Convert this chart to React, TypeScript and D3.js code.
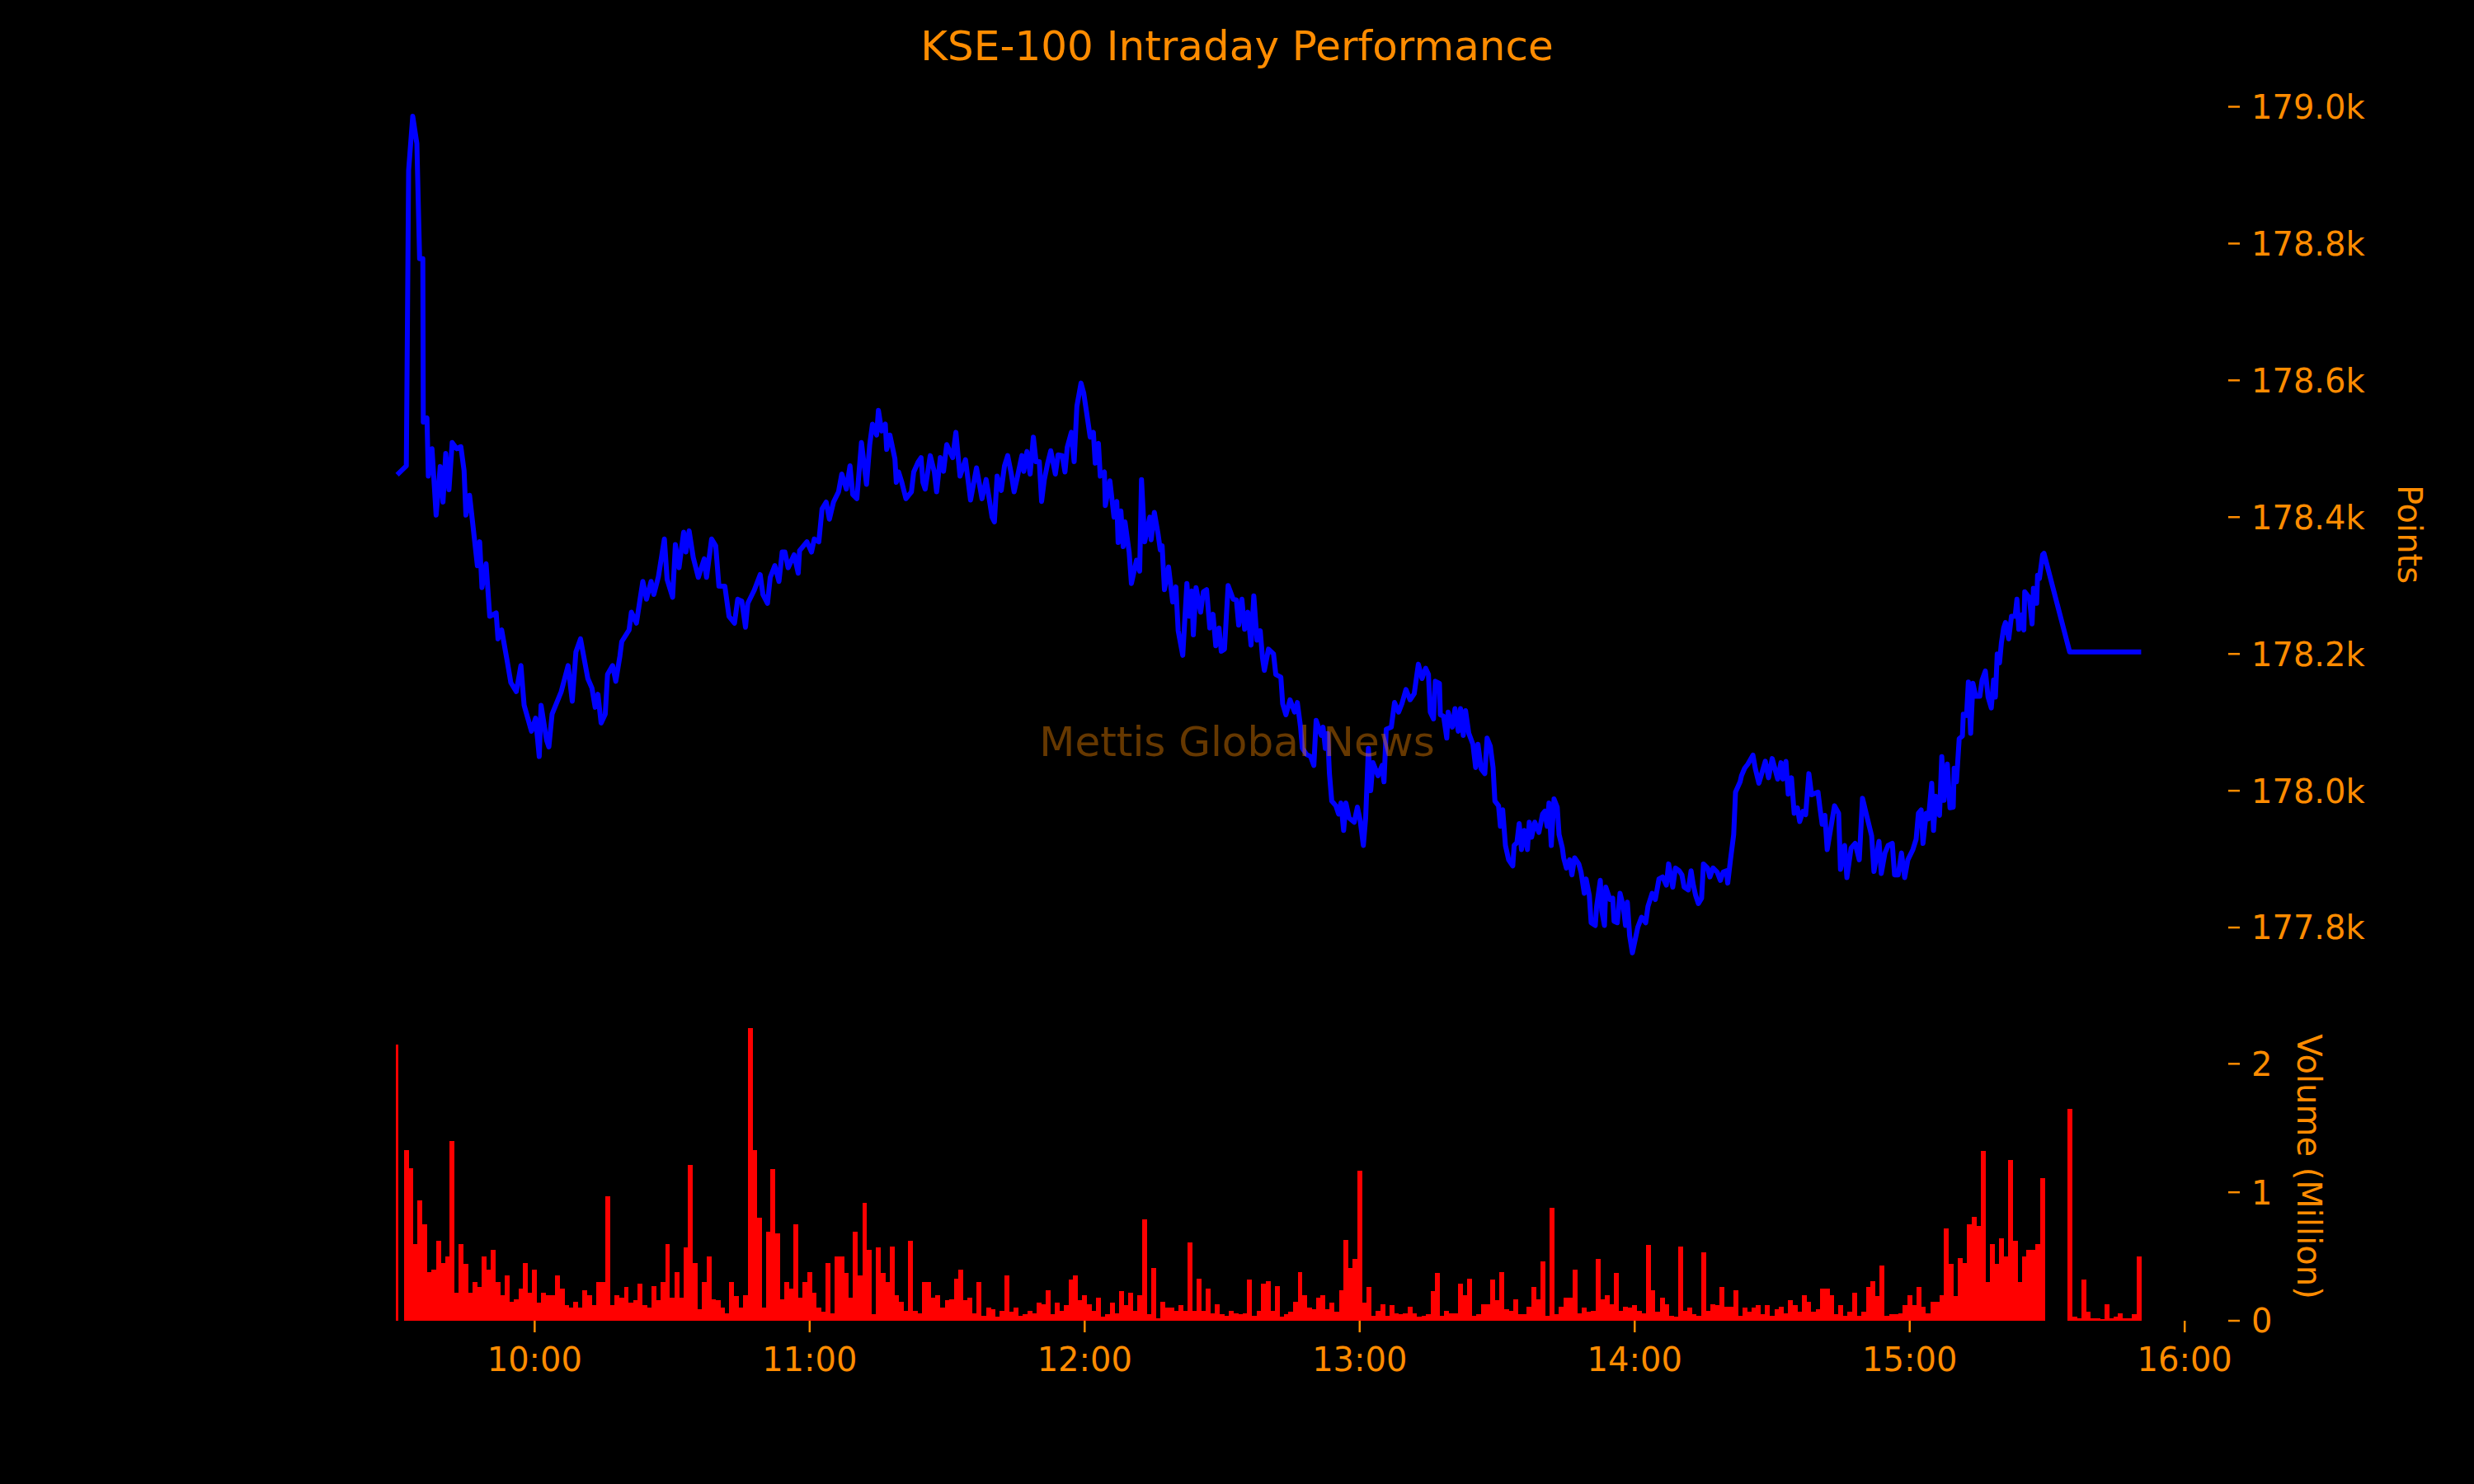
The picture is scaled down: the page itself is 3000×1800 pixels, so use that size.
import * as d3 from "d3";

// minutes after 09:30, index level (points)
const pricePoints: [number, number][] = [
  [0, 178462], [2, 178475], [2.5, 178907], [3.4, 178986], [4.3, 178946], [4.9, 178778], [5.6, 178778],
  [5.7, 178539], [6.5, 178545], [6.8, 178460], [7.6, 178500], [8.5, 178403], [9.4, 178474], [10, 178422],
  [10.6, 178493], [11.3, 178440], [12, 178509], [13, 178500], [13.9, 178503], [14.6, 178468], [15, 178403],
  [15.8, 178432], [16.5, 178390], [17.5, 178329], [18, 178364], [18.5, 178297], [19.4, 178332], [20.2, 178255],
  [21.6, 178260], [22, 178222], [22.8, 178235], [24, 178190], [24.8, 178158], [26, 178145], [27, 178183],
  [27.7, 178125], [29.3, 178087], [30.2, 178106], [31, 178050], [31.4, 178125], [32.6, 178074], [33.1, 178064],
  [33.8, 178112], [35.8, 178145], [37.3, 178183], [38.2, 178131], [39, 178203], [40, 178222], [41.6, 178164],
  [42.5, 178150], [43.2, 178122], [43.8, 178141], [44.5, 178099], [45.4, 178112], [45.9, 178170], [47, 178183],
  [47.7, 178160], [48.6, 178197], [49, 178218], [50.6, 178235], [51.1, 178261], [52.2, 178245], [53, 178280],
  [53.6, 178306], [54.4, 178280], [55.4, 178306], [56, 178287], [57, 178313], [58.3, 178368], [58.9, 178309],
  [60.1, 178283], [60.7, 178360], [61.5, 178326], [62.5, 178378], [63, 178349], [63.7, 178380], [64.6, 178341],
  [65.7, 178312], [67, 178339], [67.5, 178312], [68.6, 178368], [69.5, 178358], [70.2, 178299], [71.5, 178299],
  [72.4, 178255], [73.6, 178245], [74.3, 178280], [75.2, 178277], [76, 178239], [76.5, 178274], [77.9, 178293],
  [79.2, 178316], [79.8, 178287], [80.8, 178274], [81.4, 178312], [82.4, 178329], [83.3, 178306], [84, 178349],
  [84.6, 178349], [85.3, 178326], [86.6, 178345], [87.5, 178318], [87.8, 178351], [89.4, 178364], [90.4, 178349],
  [91, 178368], [92, 178364], [92.7, 178412], [93.6, 178422], [94.3, 178397], [95.2, 178422], [96.3, 178437],
  [97, 178463], [98, 178441], [98.8, 178475], [99.4, 178433], [100.3, 178427], [101.3, 178509], [102.4, 178448],
  [103.1, 178506], [103.7, 178536], [104.6, 178520], [105, 178556], [105.7, 178526], [106.5, 178536],
  [106.8, 178499], [107.5, 178520], [108.6, 178485], [108.9, 178451], [109.4, 178466], [110.1, 178451],
  [111, 178427], [112.2, 178437], [112.7, 178466], [113.7, 178481], [114.3, 178487], [114.7, 178451],
  [115.2, 178441], [116.3, 178490], [117.2, 178466], [117.7, 178437], [118.5, 178487], [119.2, 178467],
  [119.9, 178506], [121.2, 178487], [121.9, 178524], [122.8, 178460], [124, 178484], [125.1, 178425],
  [126.4, 178472], [127.6, 178427], [128.5, 178455], [129.8, 178400], [130.3, 178393], [130.9, 178460],
  [131.8, 178439], [132.5, 178475], [133.2, 178490], [134, 178463], [134.6, 178437], [135.2, 178455],
  [136.3, 178490], [136.7, 178467], [137.4, 178496], [138.1, 178463], [138.8, 178517], [139.4, 178481],
  [140.1, 178481], [140.6, 178423], [141.2, 178455], [141.9, 178478], [142.6, 178497], [143.6, 178463],
  [144.2, 178491], [145.1, 178490], [145.7, 178466], [146.2, 178502], [147.1, 178524], [147.7, 178481],
  [148.3, 178562], [149.2, 178596], [149.8, 178581], [150.4, 178554], [151.2, 178517], [151.9, 178524],
  [152.3, 178479], [153, 178508], [153.4, 178460], [154.3, 178466], [154.5, 178417], [155.5, 178453],
  [156.4, 178400], [157, 178423], [157.3, 178363], [157.9, 178409], [158.4, 178357], [158.8, 178393],
  [159.7, 178349], [160.2, 178303], [161.3, 178337], [162, 178321], [162.4, 178455], [163.1, 178364],
  [164.2, 178400], [164.5, 178367], [165.2, 178407], [166, 178376], [166.5, 178352], [166.9, 178358],
  [167.4, 178294], [168.3, 178327], [169.2, 178276], [169.9, 178298], [170.4, 178234], [171.4, 178198],
  [172.3, 178303], [172.8, 178255], [173.4, 178292], [173.7, 178228], [174.3, 178297], [175.3, 178261],
  [175.9, 178291], [176.6, 178294], [177.3, 178238], [178, 178258], [178.6, 178212], [179.3, 178238],
  [179.8, 178204], [180.5, 178207], [181.3, 178300], [182.4, 178280], [183.1, 178279], [183.6, 178242],
  [184.3, 178280], [184.9, 178236], [185.6, 178261], [186.3, 178213], [186.9, 178285], [187.6, 178220],
  [188.3, 178234], [188.8, 178194], [189.2, 178176], [190.1, 178207], [191.2, 178200], [191.7, 178170],
  [192.8, 178166], [193.2, 178127], [193.9, 178111], [194.8, 178133], [195.8, 178115], [196.4, 178129],
  [197.1, 178093], [197.5, 178062], [198.4, 178053], [199.3, 178050], [200, 178037], [200.5, 178103],
  [201.6, 178081], [202, 178093], [202.5, 178062], [203, 178084], [203.4, 178025], [203.9, 177985],
  [204.8, 177978], [205.4, 177966], [205.9, 177982], [206.5, 177942], [207, 177982], [207.7, 177960],
  [208.8, 177954], [209.5, 177976], [210.1, 177957], [210.8, 177920], [211.3, 177960], [211.9, 178062],
  [212.4, 178000], [212.9, 178041], [214, 178022], [214.9, 178037], [215.3, 178013], [215.8, 178090],
  [216.9, 178093], [217.6, 178129], [218.5, 178115], [219.2, 178127], [220.1, 178148], [221, 178133],
  [221.9, 178142], [222.8, 178185], [223.6, 178164], [224.4, 178179], [225, 178170], [225.4, 178115],
  [226.1, 178105], [226.5, 178160], [227.4, 178157], [227.6, 178111], [228.3, 178109], [229, 178077],
  [229.3, 178115], [230.2, 178093], [230.8, 178120], [231.5, 178087], [232, 178120], [232.6, 178081],
  [233.1, 178117], [233.8, 178084], [234.7, 178068], [235.3, 178034], [235.8, 178068], [236.5, 178032],
  [237.3, 178025], [237.8, 178077], [238.5, 178065], [239.1, 178034], [239.5, 177985], [240.3, 177978],
  [240.7, 177948], [241.2, 177972], [241.8, 177920], [242.5, 177899], [243.4, 177890], [243.7, 177920],
  [244.3, 177924], [244.8, 177952], [245.3, 177914], [245.9, 177942], [246.6, 177914], [247, 177954],
  [247.5, 177932], [248.2, 177954], [249.1, 177939], [249.9, 177966], [250.4, 177970], [250.9, 177948],
  [251.3, 177982], [251.8, 177920], [252.4, 177988], [253.1, 177976], [253.5, 177936], [254.2, 177917],
  [254.5, 177902], [255.1, 177887], [255.8, 177899], [256.3, 177877], [256.9, 177902], [257.8, 177893],
  [258.3, 177881], [259, 177850], [259.4, 177871], [260.1, 177847], [260.5, 177807], [261.4, 177803],
  [261.7, 177831], [262.5, 177869], [262.8, 177825], [263.4, 177803], [263.7, 177859], [264.6, 177841],
  [265.2, 177843], [265.5, 177809], [266.2, 177807], [266.8, 177850], [267.5, 177831], [268, 177803],
  [268.4, 177837], [268.9, 177788], [269.5, 177763], [270.2, 177785], [270.7, 177801], [271.5, 177815],
  [272.4, 177807], [272.9, 177831], [273.8, 177850], [274.5, 177841], [275.3, 177871], [276.1, 177874],
  [276.9, 177862], [277.4, 177893], [278.3, 177859], [278.9, 177887], [279.7, 177883], [280.3, 177877],
  [280.8, 177859], [281.7, 177855], [282.3, 177883], [282.8, 177862], [283.3, 177847], [283.9, 177835],
  [284.6, 177843], [285, 177893], [285.9, 177887], [286.4, 177874], [287.1, 177887], [288, 177881],
  [288.7, 177869], [289.3, 177881], [290, 177883], [290.3, 177865], [290.9, 177899], [291.6, 177936],
  [292, 177998], [293, 178013], [293.3, 178022], [294, 178033], [294.7, 178039], [295.8, 178052],
  [296.3, 178033], [297.1, 178011], [297.8, 178027], [298.5, 178043], [299.2, 178019], [300, 178047],
  [301.2, 178017], [301.9, 178041], [302.3, 178017], [303, 178043], [303.5, 177995], [304.2, 178019],
  [304.8, 177967], [305.5, 177975], [306, 177955], [306.7, 177970], [307.3, 177965], [308, 178025],
  [308.6, 177994], [310, 177998], [310.4, 177976], [310.9, 177951], [311.5, 177964], [312, 177914],
  [312.7, 177942], [313.6, 177978], [314.5, 177967], [314.9, 177885], [315.8, 177920], [316.3, 177873],
  [317.2, 177916], [318.1, 177923], [319, 177899], [319.7, 177989], [320.6, 177964], [321.7, 177934],
  [322.2, 177882], [323.3, 177926], [323.8, 177879], [324.6, 177909], [325.3, 177920], [326.2, 177923],
  [326.7, 177877], [327.5, 177877], [328.2, 177909], [328.9, 177873], [329.6, 177899], [330.7, 177914],
  [331.4, 177929], [331.9, 177967], [332.5, 177972], [332.9, 177923], [333.6, 177967], [334.1, 177959],
  [334.8, 178011], [335.2, 177942], [335.7, 177992], [336.5, 177964], [337, 178050], [337.5, 177986],
  [338.2, 178039], [338.8, 177975], [339.5, 177976], [339.7, 178033], [340.2, 178013], [340.8, 178076],
  [341.5, 178080], [341.7, 178112], [342.4, 178110], [342.8, 178159], [343.3, 178084], [343.8, 178157],
  [344.4, 178138], [345.3, 178138], [345.8, 178162], [346.5, 178175], [347.1, 178137], [347.8, 178121],
  [348.3, 178162], [348.7, 178137], [349.1, 178200], [349.6, 178187], [350, 178216], [350.5, 178238],
  [350.9, 178246], [351.6, 178222], [352.2, 178255], [353, 178255], [353.4, 178280], [353.8, 178236],
  [354.5, 178257], [354.9, 178235], [355.1, 178291], [356.1, 178282], [356.7, 178244], [357, 178296],
  [357.7, 178274], [357.9, 178315], [358.3, 178310], [359, 178345], [359.3, 178347], [364.9, 178203],
  [370, 178203], [375, 178203], [380.5, 178203],
];

// traded volume (million shares) for each minute from 09:30 to 15:50
const volumeMillion: number[] = [
  2.15, 0, 1.33, 1.19, 0.6, 0.94, 0.75, 0.38, 0.4, 0.62, 0.45, 0.5, 1.4, 0.22, 0.6, 0.44, 0.22, 0.3, 0.26, 0.5,
  0.4, 0.55, 0.3, 0.2, 0.35, 0.15, 0.17, 0.25, 0.45, 0.22, 0.4, 0.14, 0.22, 0.2, 0.2, 0.35, 0.25, 0.12, 0.1, 0.15,
  0.1, 0.24, 0.2, 0.12, 0.3, 0.3, 0.97, 0.12, 0.2, 0.18, 0.26, 0.14, 0.16, 0.29, 0.12, 0.1, 0.27, 0.16, 0.3, 0.6,
  0.18, 0.38, 0.18, 0.57, 1.21, 0.45, 0.09, 0.3, 0.5, 0.17, 0.16, 0.1, 0.06, 0.3, 0.19, 0.1, 0.2, 2.28, 1.33, 0.8,
  0.1, 0.69, 1.18, 0.68, 0.17, 0.3, 0.25, 0.75, 0.18, 0.3, 0.38, 0.22, 0.1, 0.07, 0.45, 0.06, 0.5, 0.5, 0.37, 0.18,
  0.69, 0.35, 0.92, 0.55, 0.05, 0.57, 0.37, 0.3, 0.58, 0.2, 0.15, 0.08, 0.62, 0.08, 0.06, 0.3, 0.3, 0.18, 0.2, 0.1,
  0.16, 0.17, 0.33, 0.4, 0.16, 0.18, 0.06, 0.3, 0.04, 0.1, 0.09, 0.03, 0.08, 0.35, 0.07, 0.1, 0.04, 0.05, 0.08, 0.06,
  0.14, 0.13, 0.24, 0.05, 0.14, 0.08, 0.12, 0.32, 0.35, 0.16, 0.2, 0.13, 0.08, 0.18, 0.03, 0.05, 0.14, 0.06, 0.23, 0.12,
  0.22, 0.08, 0.2, 0.79, 0.05, 0.41, 0.02, 0.15, 0.1, 0.1, 0.08, 0.12, 0.08, 0.61, 0.08, 0.33, 0.08, 0.25, 0.06, 0.13,
  0.05, 0.04, 0.08, 0.06, 0.05, 0.06, 0.32, 0.04, 0.08, 0.29, 0.31, 0.08, 0.27, 0.03, 0.05, 0.07, 0.15, 0.38, 0.2, 0.1,
  0.09, 0.18, 0.2, 0.09, 0.14, 0.07, 0.24, 0.63, 0.41, 0.48, 1.17, 0.14, 0.26, 0.04, 0.08, 0.13, 0.04, 0.12, 0.06, 0.05,
  0.06, 0.11, 0.06, 0.03, 0.04, 0.05, 0.23, 0.37, 0.04, 0.08, 0.06, 0.06, 0.29, 0.2, 0.33, 0.04, 0.05, 0.13, 0.13, 0.32,
  0.16, 0.38, 0.09, 0.08, 0.17, 0.05, 0.05, 0.11, 0.26, 0.17, 0.46, 0.04, 0.88, 0.05, 0.11, 0.18, 0.18, 0.4, 0.06, 0.1,
  0.07, 0.08, 0.48, 0.17, 0.2, 0.13, 0.37, 0.08, 0.11, 0.1, 0.12, 0.08, 0.06, 0.59, 0.24, 0.07, 0.18, 0.13, 0.04, 0.03,
  0.58, 0.08, 0.1, 0.05, 0.04, 0.53, 0.08, 0.13, 0.12, 0.26, 0.11, 0.11, 0.24, 0.04, 0.1, 0.07, 0.1, 0.12, 0.05, 0.12,
  0.04, 0.09, 0.11, 0.06, 0.16, 0.12, 0.07, 0.2, 0.15, 0.07, 0.09, 0.25, 0.25, 0.2, 0.05, 0.12, 0.04, 0.07, 0.22, 0.04,
  0.07, 0.26, 0.31, 0.19, 0.43, 0.04, 0.05, 0.05, 0.06, 0.12, 0.2, 0.12, 0.26, 0.11, 0.06, 0.15, 0.15, 0.2, 0.72, 0.44,
  0.19, 0.49, 0.45, 0.75, 0.81, 0.74, 1.32, 0.3, 0.6, 0.44, 0.64, 0.5, 1.25, 0.62, 0.3, 0.5, 0.55, 0.55, 0.6, 1.11,
  0, 0, 0, 0, 0, 1.65, 0.03, 0.02, 0.32, 0.07, 0.02, 0.02, 0.01, 0.13, 0.02, 0.03, 0.06, 0.02, 0.02, 0.05,
  0.5,
];

const priceTicks = [177800, 178000, 178200, 178400, 178600, 178800, 179000];
const volumeTicks = [0, 1, 2];

const W = 3000;
const H = 1800;
const ORANGE = "#ff8c00";
const FONT = "DejaVu Sans, sans-serif";

const open = new Date(2024, 0, 1, 9, 30);
const at = (m: number) => new Date(open.getTime() + m * 60000);

export default function App() {
  const x = d3.scaleTime().domain([at(-19), at(399.5)]).range([376, 2702]);
  const yPrice = d3.scaleLinear().domain([177700, 179050]).range([1208, 88]);
  const yVol = d3.scaleLinear().domain([0, 2.4]).range([1602, 1228]);

  const line = d3
    .line<[number, number]>()
    .x((d) => x(at(d[0])))
    .y((d) => yPrice(d[1]));

  // bars slightly overlap so the low-volume floor reads as solid, like the original
  const step = x(at(1)) - x(at(0));
  const barW = step + 0.4;
  const hourTicks = x.ticks(d3.timeHour.every(1)!);
  const fmt = d3.timeFormat("%H:%M");
  const axisX = 2702;

  return (
    <div style={{ position: "absolute", left: 0, top: 0, width: W, height: H, background: "#000" }}>
      <svg width={W} height={H} style={{ display: "block" }} fontFamily={FONT}>
        <rect width={W} height={H} fill="#000" />

        {/* volume bars */}
        <g fill="#ff0000" shapeRendering="crispEdges">
          {volumeMillion.map((v, i) =>
            v > 0 ? (
              <rect
                key={i}
                x={x(at(i)) - (i === 0 ? 1.5 : barW / 2)}
                y={yVol(v)}
                width={i === 0 ? 3 : barW}
                height={yVol(0) - yVol(v)}
              />
            ) : null
          )}
        </g>

        {/* price line */}
        <path
          d={line(pricePoints) ?? ""}
          fill="none"
          stroke="#0000ff"
          strokeWidth={6}
          strokeLinejoin="round"
        />

        {/* x axis (time) */}
        <g fill={ORANGE} stroke={ORANGE}>
          {hourTicks.map((t) => (
            <g key={t.getTime()}>
              <line x1={x(t)} x2={x(t)} y1={1602} y2={1616} strokeWidth={2.5} />
              <text x={x(t)} y={1663} textAnchor="middle" fontSize={40} stroke="none">
                {fmt(t)}
              </text>
            </g>
          ))}
        </g>

        {/* price axis (right) */}
        <g fill={ORANGE} stroke={ORANGE}>
          {priceTicks.map((p) => (
            <g key={p}>
              <line x1={axisX} x2={axisX + 14} y1={yPrice(p)} y2={yPrice(p)} strokeWidth={2.5} />
              <text x={axisX + 28} y={yPrice(p)} dy="0.36em" fontSize={40} stroke="none">
                {(p / 1000).toFixed(1) + "k"}
              </text>
            </g>
          ))}
          <text
            transform={`translate(2908, ${(yPrice.range()[0] + yPrice.range()[1]) / 2}) rotate(90)`}
            textAnchor="middle"
            fontSize={40}
            stroke="none"
          >
            Points
          </text>
        </g>

        {/* volume axis (right) */}
        <g fill={ORANGE} stroke={ORANGE}>
          {volumeTicks.map((v) => (
            <g key={v}>
              <line x1={axisX} x2={axisX + 14} y1={yVol(v)} y2={yVol(v)} strokeWidth={2.5} />
              <text x={axisX + 28} y={yVol(v)} dy="0.36em" fontSize={40} stroke="none">
                {v}
              </text>
            </g>
          ))}
          <text
            transform={`translate(2786, ${(yVol.range()[0] + yVol.range()[1]) / 2}) rotate(90)`}
            textAnchor="middle"
            fontSize={40}
            stroke="none"
          >
            Volume (Million)
          </text>
        </g>

        {/* watermark */}
        <text
          x={W / 2}
          y={H / 2}
          textAnchor="middle"
          dominantBaseline="central"
          fontSize={50}
          fill={ORANGE}
          fillOpacity={0.4}
        >
          Mettis Global News
        </text>

        <text x={W / 2} y={73} textAnchor="middle" fontSize={50} fill={ORANGE}>
          KSE-100 Intraday Performance
        </text>
      </svg>
    </div>
  );
}
